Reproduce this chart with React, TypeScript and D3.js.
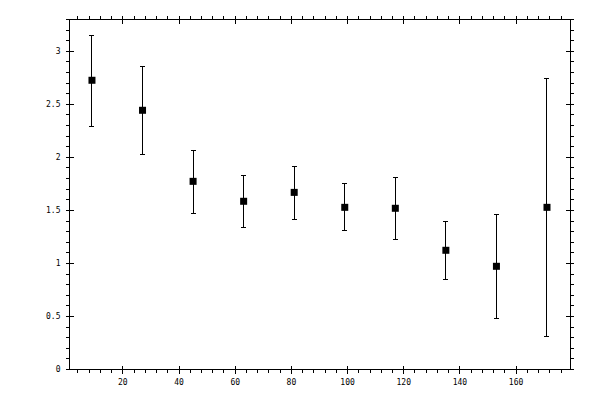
import React from "react";
import * as d3 from "d3";

const xValues = [9, 27, 45, 63, 81, 99, 117, 135, 153, 171];
const yValues = [2.727, 2.444, 1.774, 1.586, 1.67, 1.529, 1.52, 1.124, 0.973, 1.529];
const yUpper = [3.153, 2.858, 2.067, 1.831, 1.916, 1.755, 1.809, 1.397, 1.46, 2.748];
const yLower = [2.293, 2.029, 1.473, 1.341, 1.416, 1.312, 1.227, 0.85, 0.483, 0.309];
const xMajorTicks = [20, 40, 60, 80, 100, 120, 140, 160];
const yMajorTicks = [0, 0.5, 1, 1.5, 2, 2.5, 3];
const yTickLabels = ["0", "0.5", "1", "1.5", "2", "2.5", "3"];

export default function App() {
  const W = 600, H = 400;
  const left = 69.5, right = 570.3, top = 19.5, bottom = 369.5;
  const x = d3.scaleLinear().domain([1, 179.3]).range([left, right]);
  const y = d3.scaleLinear().domain([0, 3.3]).range([bottom, top]);

  const xMinor = d3.range(4, 180, 4).filter((v) => v % 20 !== 0);
  const yMinor = d3.range(0, 34).map((i) => i / 10).filter((v) => Math.round(v * 10) % 5 !== 0);

  const font = "'DejaVu Sans Mono', monospace";
  const stroke = "#000";
  const minorLen = 3.5;
  const majorLen = 4;
  const sq = 7;
  const cap = 2.5;

  return (
    <svg width={W} height={H} style={{ position: "absolute", left: 0, top: 0, background: "#fff" }}>
      <rect x={0} y={0} width={W} height={H} fill="#fff" />
      <g stroke={stroke} strokeWidth={1} shapeRendering="crispEdges">
        <rect x={left} y={top} width={right - left} height={bottom - top} fill="none" />
        {xMinor.map((v) => (
          <g key={"xm" + v}>
            <line x1={x(v)} x2={x(v)} y1={bottom} y2={bottom + minorLen} />
            <line x1={x(v)} x2={x(v)} y1={top} y2={top - minorLen} />
          </g>
        ))}
        {xMajorTicks.map((v) => (
          <g key={"xM" + v}>
            <line x1={x(v)} x2={x(v)} y1={bottom - majorLen} y2={bottom + majorLen} />
            <line x1={x(v)} x2={x(v)} y1={top - majorLen} y2={top + majorLen} />
          </g>
        ))}
        {yMinor.map((v) => (
          <g key={"ym" + v}>
            <line x1={left - minorLen} x2={left} y1={y(v)} y2={y(v)} />
            <line x1={right} x2={right + minorLen} y1={y(v)} y2={y(v)} />
          </g>
        ))}
        {yMajorTicks.map((v) => (
          <g key={"yM" + v}>
            <line x1={left - majorLen} x2={left + majorLen} y1={y(v)} y2={y(v)} />
            <line x1={right - majorLen} x2={right + majorLen} y1={y(v)} y2={y(v)} />
          </g>
        ))}
      </g>
      <g fontFamily={font} fontSize={8} fill="#000">
        {xMajorTicks.map((v) => (
          <text key={"xl" + v} x={x(v)} y={bottom + 15} textAnchor="middle">
            {String(v)}
          </text>
        ))}
        {yMajorTicks.map((v, i) => (
          <text key={"yl" + v} x={left - 9} y={y(v)} dy="0.35em" textAnchor="end">
            {yTickLabels[i]}
          </text>
        ))}
      </g>
      <g stroke={stroke} strokeWidth={1} shapeRendering="crispEdges">
        {xValues.map((v, i) => (
          <g key={"e" + i}>
            <line x1={x(v)} x2={x(v)} y1={y(yUpper[i])} y2={y(yLower[i])} />
            <line x1={x(v) - cap} x2={x(v) + cap} y1={y(yUpper[i])} y2={y(yUpper[i])} />
            <line x1={x(v) - cap} x2={x(v) + cap} y1={y(yLower[i])} y2={y(yLower[i])} />
          </g>
        ))}
      </g>
      <g fill="#000">
        {xValues.map((v, i) => (
          <rect key={"p" + i} x={x(v) - sq / 2} y={y(yValues[i]) - sq / 2} width={sq} height={sq} />
        ))}
      </g>
    </svg>
  );
}
